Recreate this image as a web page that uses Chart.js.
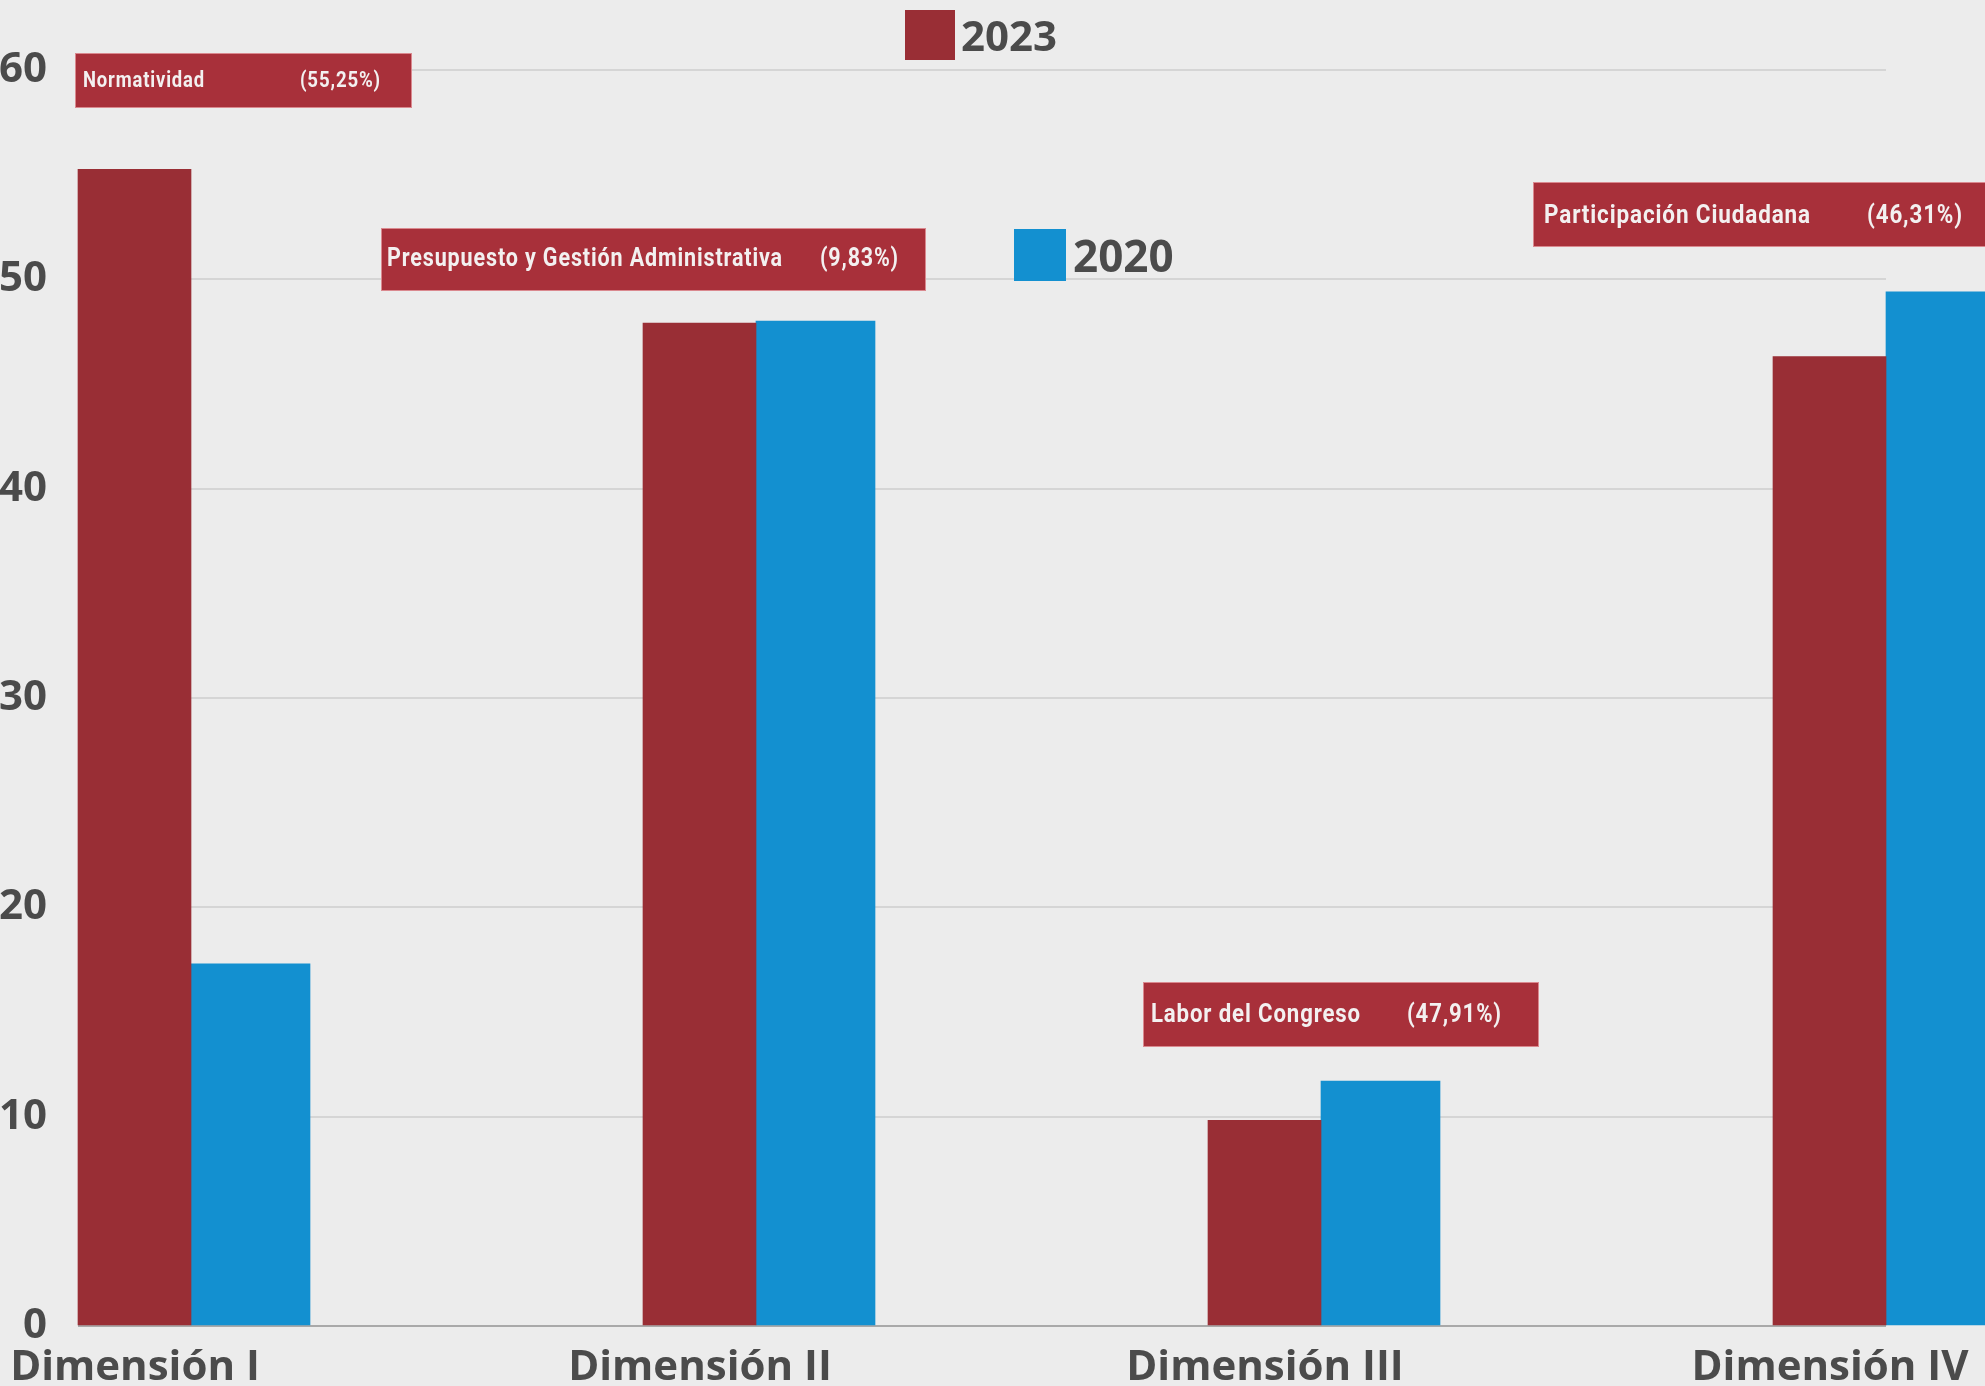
<!DOCTYPE html>
<html><head><meta charset="utf-8">
<script src="https://cdn.jsdelivr.net/npm/chart.js@4"></script>
<style>
html,body{margin:0;padding:0;background:#ececec;overflow:hidden}
#wrap{width:1985px;height:1386px;position:relative}
canvas{display:block}
</style></head>
<body><div id="wrap"><canvas id="c" width="1985" height="1386"></canvas></div>
<script>
// ---- data ----
const categories = ['Dimensión I', 'Dimensión II', 'Dimensión III', 'Dimensión IV'];
const seriesNames = ['2023', '2020'];
const values2023 = [55.25, 47.91, 9.83, 46.31];
const values2020 = [17.3, 48.0, 11.7, 49.4];
const yTicks = [0, 10, 20, 30, 40, 50, 60];
const calloutNames = ['Normatividad', 'Presupuesto y Gestión Administrativa', 'Labor del Congreso', 'Participación Ciudadana'];
const calloutValues = ['(55,25%)', '(9,83%)', '(47,91%)', '(46,31%)'];

// ---- styles / layout ----
const RED = '#992e35', BLUE = '#1390d0', BOX = '#a8303a', TXT = '#4b4b4b';
const calloutLayout = [
  {x:75,  y:53,  w:337, h:55, size:22, nameX:83,   nameW:122, pctX:300,  pctW:81, base:87},
  {x:381, y:228, w:545, h:63, size:25, nameX:387,  nameW:396, pctX:820,  pctW:79, base:266},
  {x:1143,y:982, w:396, h:65, size:26, nameX:1151, nameW:210, pctX:1407, pctW:95, base:1022},
  {x:1533,y:182, w:470, h:65, size:26, nameX:1544, nameW:267, pctX:1867, pctW:96, base:223}
];
const legendLayout = [
  {sx:905,  sy:10,  s:50, tx:961,  base:51,  size:42},
  {sx:1014, sy:229, s:52, tx:1073, base:272, size:44}
];

function drawScaled(ctx, text, x, base, targetW) {
  const w = ctx.measureText(text).width;
  const sx = targetW / w;
  ctx.save();
  ctx.translate(x, base);
  ctx.scale(sx, 1);
  ctx.fillText(text, 0, 0);
  ctx.restore();
}

const overlayPlugin = {
  id: 'overlay',
  beforeDraw(chart) {
    const ctx = chart.ctx;
    ctx.save();
    ctx.fillStyle = '#ececec';
    ctx.fillRect(0, 0, chart.width, chart.height);
    ctx.restore();
  },
  afterDraw(chart) {
    const ctx = chart.ctx;
    ctx.save();
    calloutLayout.forEach((b, i) => {
      ctx.fillStyle = BOX;
      ctx.fillRect(b.x, b.y, b.w, b.h);
      ctx.strokeStyle = 'rgba(230,160,165,0.8)';
      ctx.lineWidth = 1;
      ctx.strokeRect(b.x + 0.5, b.y + 0.5, b.w - 1, b.h - 1);
      ctx.fillStyle = '#f3f0f0';
      ctx.font = `bold ${b.size}px Roboto`;
      if ('letterSpacing' in ctx) ctx.letterSpacing = '1px';
      ctx.textBaseline = 'alphabetic';
      ctx.textAlign = 'left';
      drawScaled(ctx, calloutNames[i], b.nameX, b.base, b.nameW);
      drawScaled(ctx, calloutValues[i], b.pctX, b.base, b.pctW);
    });
    if ('letterSpacing' in ctx) ctx.letterSpacing = '0px';
    chart.data.datasets.forEach((ds, i) => {
      const l = legendLayout[i];
      ctx.fillStyle = ds.backgroundColor;
      ctx.fillRect(l.sx, l.sy, l.s, l.s);
      ctx.fillStyle = TXT;
      ctx.font = `bold ${l.size}px "Open Sans"`;
      ctx.textBaseline = 'alphabetic';
      ctx.textAlign = 'left';
      ctx.fillText(ds.label, l.tx, l.base);
    });
    ctx.restore();
  }
};

function build() {
  new Chart(document.getElementById('c'), {
    type: 'bar',
    data: {
      datasets: [
        {label: seriesNames[0], data: values2023.map((v, i) => ({x: i, y: v})), backgroundColor: RED, barThickness: 113, clip: false},
        {label: seriesNames[1], data: values2020.map((v, i) => ({x: i, y: v})), backgroundColor: BLUE, barThickness: 119, clip: false}
      ]
    },
    options: {
      responsive: false,
      animation: false,
      devicePixelRatio: 1,
      layout: {padding: {top: 70, right: 99, left: 0, bottom: 0}},
      plugins: {legend: {display: false}, tooltip: {enabled: false}},
      scales: {
        x: {
          type: 'linear',
          offset: false,
          min: -0.2,
          max: 3.0,
          afterBuildTicks: s => { s.ticks = categories.map((_, i) => ({value: i})); },
          afterFit: s => { s.paddingLeft = 0; s.paddingRight = 0; s.height = 60; },
          grid: {display: false, offset: false},
          border: {display: false},
          ticks: {
            callback: v => categories[v],
            autoSkip: false, maxRotation: 0, minRotation: 0,
            labelOffset: -56,
            padding: 9,
            color: TXT,
            font: {family: '"Open Sans"', size: 42, weight: 'bold'}
          }
        },
        y: {
          min: 0,
          max: 60,
          afterBuildTicks: s => { s.ticks = yTicks.map(v => ({value: v})); },
          afterFit: s => { s.width = 78; },
          border: {display: false},
          grid: {
            drawTicks: false,
            lineWidth: 2,
            color: c => (c.tick && c.tick.value === 0) ? '#a9a9a9' : '#d5d5d5'
          },
          ticks: {
            padding: 31,
            color: TXT,
            font: {family: '"Open Sans"', size: 42, weight: 'bold'}
          }
        }
      }
    },
    plugins: [overlayPlugin]
  });
}

Promise.all([
  document.fonts.load('bold 42px "Open Sans"'),
  document.fonts.load('bold 26px Roboto')
]).then(build, build);
</script>
</body></html>
